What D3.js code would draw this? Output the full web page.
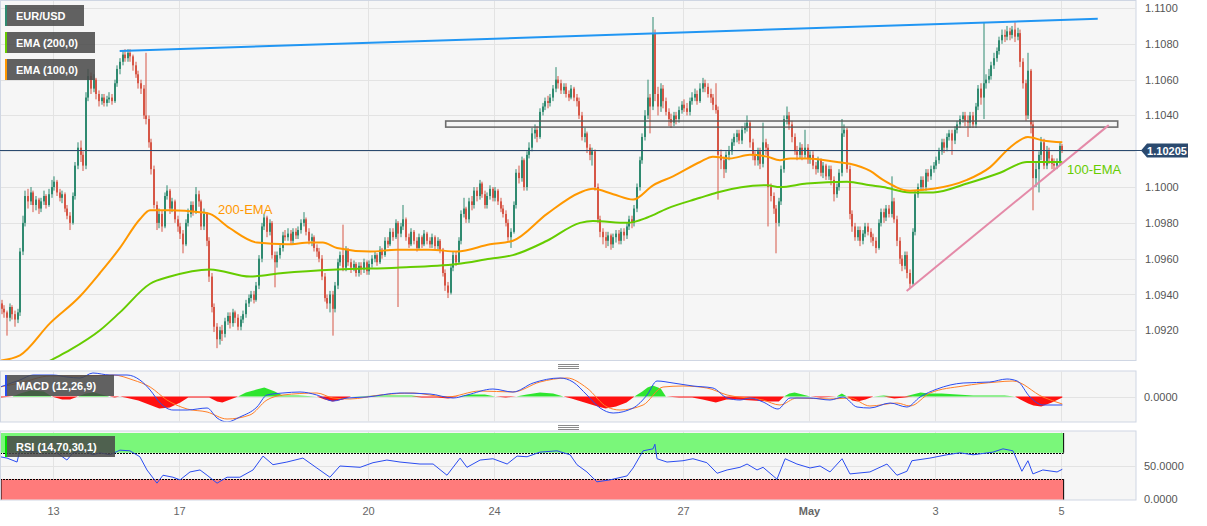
<!DOCTYPE html>
<html><head><meta charset="utf-8">
<script src="https://cdn.jsdelivr.net/npm/d3@7/dist/d3.min.js"></script>
<style>html,body{margin:0;padding:0;background:#fff;}svg{display:block;font-family:Arial,"Liberation Sans",sans-serif;}</style>
</head><body><svg id="c" width="1207" height="526"></svg>
<script>
// ---------------- DATA ----------------
const tickHours = [0,48,120,168,240,288,336,384];
const tickLabels = ["13","17","20","24","27","May","3","5"];
const priceGrid = [1.0920,1.0940,1.0960,1.0980,1.1000,1.1020,1.1040,1.1060,1.1080,1.1100];
const priceTicks = [1.0920,1.0940,1.0960,1.0980,1.1000,1.1040,1.1060,1.1080,1.1100];
const macdTicks = [0];
const rsiTicks = [0,50];
const firstHour = -20;
const firstOpen = 1.0935;
const lastPrice = 1.10205;
const closes = [
1.0932,1.0930,1.0927,1.0933,1.0929,1.0926,1.0930,
1.0964,1.0980,1.0995,1.0992,1.0997,1.0990,1.0993,1.0988,1.0992,1.0995,1.0990,1.0996,1.1000,
1.1003,1.0997,1.0994,1.0996,1.0988,1.0984,1.0980,1.0995,1.1012,1.1022,1.1018,1.1012,
1.1050,1.1062,1.1055,1.1060,1.1052,1.1048,1.1050,1.1047,1.1049,1.1050,1.1048,1.1058,
1.1066,1.1070,1.1074,1.1072,1.1075,1.1073,1.1068,1.1063,1.1058,1.1055,1.1040,1.1038,
1.1025,1.1010,1.0990,1.0980,1.0985,1.0978,1.0995,1.0998,1.0988,1.0992,1.0982,1.0978,
1.0974,1.0968,1.0980,1.0985,1.0990,1.0986,1.0996,1.0992,1.0978,1.0985,1.0970,1.0950,
1.0933,1.0922,1.0915,1.0920,1.0918,1.0925,1.0928,1.0924,1.0930,1.0927,1.0922,1.0926,
1.0929,1.0935,1.0938,1.0940,1.0937,1.0945,1.0960,1.0978,1.0983,1.0975,1.0980,1.0962,
1.0958,1.0962,1.0966,1.0973,1.0972,1.0974,1.0970,1.0975,1.0973,1.0976,1.0980,1.0982,
1.0975,1.0970,1.0972,1.0966,1.0964,1.0960,1.0950,1.0938,1.0935,1.0940,1.0932,1.0945,
1.0958,1.0962,1.0955,1.0965,1.0958,1.0955,1.0957,1.0952,1.0956,1.0954,1.0958,1.0953,
1.0957,1.0960,1.0962,1.0958,1.0965,1.0962,1.0970,1.0968,1.0975,1.0972,1.0980,1.0974,
1.0978,1.0982,1.0972,1.0968,1.0975,1.0970,1.0966,1.0972,1.0968,1.0974,1.0970,1.0968,
1.0972,1.0967,1.0970,1.0965,1.0952,1.0945,1.0941,1.0955,1.0962,1.0958,1.0970,1.0985,
1.0988,1.0982,1.0992,1.0990,1.0998,1.0995,1.1002,1.0996,1.0990,1.0995,1.0999,1.0994,
1.0998,1.0992,1.0988,1.0985,1.0980,1.0972,1.0975,1.0990,1.1008,1.1005,1.1015,1.1000,
1.1018,1.1022,1.1030,1.1032,1.1028,1.1042,1.1045,1.1048,1.1047,1.1050,1.1055,1.1060,
1.1058,1.1054,1.1056,1.1052,1.1050,1.1055,1.1050,1.1048,1.1040,1.1028,1.1030,1.1022,
1.1018,1.1020,1.1000,1.0982,1.0975,1.0972,1.0970,1.0973,1.0968,1.0972,1.0974,1.0970,
1.0975,1.0973,1.0978,1.0982,1.0980,1.0988,1.1000,1.1015,1.1028,1.1040,1.1050,1.1045,
1.1086,1.1052,1.1045,1.1055,1.1048,1.1042,1.1038,1.1036,1.1040,1.1038,1.1043,1.1046,
1.1044,1.1042,1.1048,1.1050,1.1052,1.1048,1.1055,1.1058,1.1056,1.1052,1.1050,1.1046,
1.1043,1.1018,1.1015,1.1010,1.1018,1.1020,1.1025,1.1028,1.1030,1.1026,1.1032,1.1033,
1.1036,1.1025,1.1018,1.1015,1.1020,1.1013,1.1025,1.1022,1.1000,1.0995,1.0988,1.0980,
1.0992,1.1010,1.1038,1.1040,1.1035,1.1028,1.1020,1.1018,1.1022,1.1018,1.1022,1.1016,
1.1018,1.1012,1.1010,1.1015,1.1008,1.1012,1.1006,1.1010,1.1004,1.0996,1.1000,1.1008,
1.1030,1.1032,1.1010,1.0985,1.0978,1.0972,1.0976,1.0970,1.0974,1.0978,1.0975,1.0972,
1.0970,1.0966,1.0980,1.0986,1.0983,1.0988,1.0985,1.0992,1.0982,1.0970,1.0960,1.0956,
1.0962,1.0952,1.0946,1.0975,1.0996,1.1000,1.1004,1.1000,1.1008,1.1006,1.1010,1.1012,
1.1015,1.1020,1.1025,1.1022,1.1028,1.1030,1.1026,1.1032,1.1035,1.1038,1.1040,1.1037,
1.1036,1.1040,1.1035,1.1045,1.1055,1.1050,1.1058,1.1060,1.1062,1.1068,1.1072,1.1076,
1.1082,1.1085,1.1084,1.1087,1.1085,1.1088,1.1084,1.1086,1.1070,1.1058,1.1040,1.1065,
1.1035,1.1005,1.1010,1.1018,1.1025,1.1012,1.1020,1.1016,1.1013,1.1012,1.1014,1.1023,1.10205];
const highs = [
1.0937,1.0934,1.0931,1.0935,1.0934,1.0931,1.0932,
1.0966,1.0984,1.0998,1.0999,1.1000,1.0998,1.0995,1.0994,1.0994,1.0998,1.0996,1.0999,1.1004,
1.1006,1.1004,1.0999,1.0998,1.0997,1.0990,1.0986,1.0997,1.1014,1.1025,1.1026,1.1020,
1.1053,1.1066,1.1064,1.1063,1.1061,1.1054,1.1052,1.1052,1.1051,1.1053,1.1052,1.1060,
1.1068,1.1072,1.1076,1.1077,1.1077,1.1077,1.1074,1.1070,1.1065,1.1060,1.1057,1.1075,
1.1040,1.1027,1.1012,1.0992,1.0988,1.0987,1.0997,1.1001,1.0999,1.0994,1.0993,1.0984,
1.0980,1.0976,1.0982,1.0988,1.0992,1.0992,1.1000,1.0998,1.0993,1.0988,1.0986,1.0972,
1.0952,1.0935,1.0924,1.0922,1.0923,1.0927,1.0930,1.0930,1.0932,1.0931,1.0929,1.0928,
1.0931,1.0937,1.0940,1.0942,1.0942,1.0947,1.0962,1.0980,1.0985,1.0984,1.0982,1.0981,
1.0964,1.0964,1.0968,1.0975,1.0976,1.0977,1.0976,1.0977,1.0977,1.0978,1.0982,1.0986,
1.0983,1.0977,1.0974,1.0973,1.0968,1.0966,1.0962,1.0952,1.0940,1.0942,1.0942,1.0947,
1.0960,1.0964,1.0979,1.0967,1.0966,1.0960,1.0959,1.0958,1.0958,1.0958,1.0960,1.0959,
1.0959,1.0962,1.0964,1.0963,1.0967,1.0966,1.0972,1.0972,1.0977,1.0977,1.0982,1.0981,
1.0980,1.0990,1.0983,1.0974,1.0977,1.0976,1.0972,1.0974,1.0973,1.0976,1.0975,1.0972,
1.0974,1.0973,1.0972,1.0971,1.0966,1.0954,1.0947,1.0957,1.0964,1.0964,1.0972,1.0987,
1.0994,1.0989,1.0994,1.0995,1.1000,1.1000,1.1004,1.1003,1.0998,1.0997,1.1001,1.1000,
1.1000,1.0999,1.0994,1.0990,1.0987,1.0982,1.0977,1.0992,1.1010,1.1012,1.1017,1.1016,
1.1020,1.1025,1.1033,1.1035,1.1034,1.1044,1.1047,1.1050,1.1051,1.1052,1.1057,1.1067,
1.1062,1.1060,1.1058,1.1058,1.1054,1.1057,1.1056,1.1052,1.1050,1.1042,1.1033,1.1031,
1.1024,1.1022,1.1021,1.1002,1.0984,1.0977,1.0975,1.0975,1.0974,1.0974,1.0976,1.0976,
1.0977,1.0977,1.0980,1.0984,1.0984,1.0990,1.1002,1.1017,1.1030,1.1043,1.1060,1.1052,
1.1095,1.1088,1.1056,1.1058,1.1057,1.1050,1.1044,1.1041,1.1042,1.1042,1.1045,1.1048,
1.1049,1.1047,1.1050,1.1053,1.1055,1.1054,1.1058,1.1061,1.1060,1.1058,1.1055,1.1052,
1.1058,1.1045,1.1021,1.1017,1.1020,1.1023,1.1027,1.1030,1.1032,1.1032,1.1034,1.1036,
1.1040,1.1037,1.1027,1.1020,1.1022,1.1022,1.1036,1.1027,1.1024,1.1002,1.0997,1.0990,
1.0994,1.1012,1.1040,1.1045,1.1042,1.1037,1.1030,1.1023,1.1025,1.1024,1.1032,1.1024,
1.1020,1.1020,1.1014,1.1017,1.1016,1.1014,1.1013,1.1012,1.1012,1.1006,1.1002,1.1010,
1.1038,1.1035,1.1033,1.1012,1.0987,1.0980,1.0978,1.0978,1.0976,1.0980,1.0980,1.0977,
1.0974,1.0972,1.0982,1.0988,1.0988,1.0990,1.0990,1.1006,1.0994,1.0984,1.0972,1.0962,
1.0964,1.0964,1.0954,1.0977,1.0998,1.1002,1.1006,1.1006,1.1010,1.1010,1.1012,1.1014,
1.1017,1.1022,1.1027,1.1027,1.1030,1.1032,1.1032,1.1034,1.1037,1.1040,1.1042,1.1042,
1.1040,1.1042,1.1042,1.1047,1.1057,1.1058,1.1092,1.1063,1.1066,1.1070,1.1075,1.1078,
1.1084,1.1088,1.1088,1.1090,1.1089,1.1090,1.1092,1.1089,1.1088,1.1072,1.1060,1.1075,
1.1066,1.1037,1.1014,1.1020,1.1028,1.1027,1.1023,1.1022,1.1018,1.1016,1.1016,1.1025,1.1024];
const lows = [
1.0929,1.0927,1.0917,1.0925,1.0926,1.0922,1.0924,
1.0928,1.0962,1.0978,1.0988,1.0990,1.0986,1.0987,1.0985,1.0986,1.0990,1.0988,1.0989,1.0994,
1.0998,1.0995,1.0992,1.0991,1.0986,1.0982,1.0976,1.0979,1.0993,1.1010,1.1014,1.1009,
1.1010,1.1048,1.1052,1.1053,1.1049,1.1045,1.1046,1.1045,1.1045,1.1047,1.1046,1.1047,
1.1056,1.1063,1.1068,1.1070,1.1070,1.1070,1.1065,1.1061,1.1055,1.1052,1.1038,1.1035,
1.1022,1.1007,1.0988,1.0976,1.0977,1.0975,1.0977,1.0993,1.0985,1.0986,1.0980,1.0975,
1.0971,1.0963,1.0967,1.0978,1.0983,1.0984,1.0985,1.0989,1.0976,1.0976,1.0967,1.0947,
1.0930,1.0919,1.0910,1.0912,1.0914,1.0916,1.0923,1.0921,1.0922,1.0924,1.0920,1.0920,
1.0924,1.0927,1.0933,1.0936,1.0935,1.0936,1.0943,1.0958,1.0976,1.0972,1.0973,1.0960,
1.0944,1.0955,1.0960,1.0964,1.0970,1.0970,1.0968,1.0968,1.0971,1.0971,1.0974,1.0978,
1.0973,1.0968,1.0967,1.0964,1.0961,1.0958,1.0948,1.0936,1.0932,1.0930,1.0917,1.0930,
1.0943,1.0956,1.0953,1.0953,1.0956,1.0952,1.0953,1.0950,1.0950,1.0951,1.0952,1.0951,
1.0951,1.0955,1.0958,1.0956,1.0957,1.0960,1.0961,1.0966,1.0967,1.0970,1.0971,1.0933,
1.0972,1.0976,1.0970,1.0966,1.0967,1.0968,1.0964,1.0965,1.0966,1.0967,1.0968,1.0966,
1.0966,1.0965,1.0965,1.0963,1.0950,1.0942,1.0938,1.0940,1.0953,1.0956,1.0957,1.0968,
1.0983,1.0980,1.0980,1.0987,1.0988,1.0992,1.0993,1.0994,1.0988,1.0988,1.0993,1.0992,
1.0992,1.0990,1.0986,1.0983,1.0978,1.0970,1.0966,1.0974,1.0988,1.1002,1.1003,1.0998,
1.0998,1.1016,1.1020,1.1027,1.1025,1.1027,1.1040,1.1043,1.1044,1.1045,1.1048,1.1053,
1.1055,1.1052,1.1052,1.1050,1.1048,1.1049,1.1048,1.1045,1.1038,1.1026,1.1025,1.1019,
1.1015,1.1012,1.0998,1.0980,1.0972,1.0968,1.0966,1.0967,1.0965,1.0966,1.0969,1.0968,
1.0968,1.0970,1.0971,1.0976,1.0977,1.0978,1.0986,1.0998,1.1013,1.1026,1.1038,1.1030,
1.1043,1.1048,1.1040,1.1042,1.1044,1.1040,1.1034,1.1033,1.1034,1.1035,1.1036,1.1041,
1.1042,1.1040,1.1040,1.1046,1.1048,1.1046,1.1047,1.1053,1.1053,1.1050,1.1047,1.1043,
1.1041,1.0993,1.1010,1.1005,1.1008,1.1015,1.1018,1.1023,1.1025,1.1024,1.1024,1.1030,
1.1031,1.1022,1.1015,1.1012,1.1012,1.1010,1.1011,1.1018,1.0978,1.0992,1.0985,1.0963,
1.0978,1.0990,1.1008,1.1035,1.1032,1.1025,1.1018,1.1015,1.1016,1.1015,1.1016,1.1013,
1.1013,1.1010,1.1007,1.1008,1.1006,1.1005,1.1004,1.1004,1.1001,1.0992,1.0994,1.0998,
1.1006,1.1028,1.1008,1.0982,1.0975,1.0970,1.0970,1.0967,1.0968,1.0972,1.0973,1.0969,
1.0967,1.0963,1.0965,1.0978,1.0980,1.0981,1.0983,1.0983,1.0980,1.0967,1.0957,1.0953,
1.0954,1.0949,1.0943,1.0945,1.0973,1.0994,1.0998,1.0998,1.0998,1.1003,1.1004,1.1008,
1.1010,1.1013,1.1018,1.1019,1.1020,1.1026,1.1018,1.1024,1.1030,1.1033,1.1036,1.1034,
1.1028,1.1033,1.1033,1.1033,1.1043,1.1046,1.1038,1.1055,1.1058,1.1060,1.1066,1.1070,
1.1074,1.1080,1.1081,1.1082,1.1082,1.1083,1.1081,1.1082,1.1067,1.1055,1.1037,1.1038,
1.1030,1.0987,1.1000,1.0997,1.1015,1.1010,1.1010,1.1013,1.1010,1.1009,1.1010,1.1012,1.1019];

const ema100Hours = [-20.7,-13.1,-1.6,9.8,17.4,25,32.6,36.5,44.1,55.5,59.3,66.9,77.2,88.6,97.4,102.3,107.7,120.3,130.5,143.1,153.4,166,174.7,187.7,200.3,205.2,212.9,220.5,228.1,235.7,246,250.9,257.4,265,271.5,276.4,280.3,286.7,298.2,303.1,310.8,315.7,326,334.8,347.7,356.4,364,370.9,376.6,384];
const ema100 = [1.0903,1.0906,1.0924,1.0939,1.0952,1.0966,1.0982,1.0987,1.0987,1.0986,1.0985,1.0977,1.0969,1.0968,1.0969,1.0969,1.0966,1.0964,1.0965,1.0965,1.0964,1.0968,1.0970,1.0985,1.0997,1.0999,1.0996,1.0993,1.1001,1.1006,1.1014,1.1017,1.1016,1.1018,1.1017,1.1015,1.1016,1.1016,1.1014,1.1013,1.1009,1.1004,1.0998,1.0999,1.1004,1.1011,1.1022,1.1028,1.1026,1.1025];
const ema200Hours = [-20.7,-1.6,6,17.4,25,36.5,44.1,59.3,74.6,87.1,107.7,130.5,153.4,166,174.7,187.7,200.3,205.2,218.2,225.9,233.4,246,252.5,271.5,276.4,286.7,302,310.8,315.7,326,334.8,347.7,360.3,370.5,384];
const ema200 = [1.0885,1.0903,1.0909,1.0920,1.0930,1.0946,1.0950,1.0954,1.0950,1.0952,1.0954,1.0955,1.0957,1.0960,1.0962,1.0970,1.0980,1.0981,1.0980,1.0983,1.0988,1.0994,1.0997,1.1001,1.1000,1.1002,1.1003,1.1001,1.1000,1.0997,1.0997,1.1002,1.1008,1.1014,1.1014];

const resistanceLine = [[25.4,1.1076],[398.0,1.1094]];
const supportLine = [[325.2,1.0942],[402.2,1.10346]];
const zoneHours = [149.6,405.6];
const zonePrices = [1.10335,1.10369];
const annotations = [
  {text:"200-EMA", hour:62.9, price:1.0988, color:"#ff9800"},
  {text:"100-EMA", hour:386.3, price:1.10101, color:"#66cc00"}
];

const macdHours = [-20.7,-13.1,-8.1,-0.5,4.8,9.8,14.7,21.2,27.7,32.6,36.5,40.3,45.2,50.6,58.2,62,65.8,70.7,77.2,81,87.1,93.6,100,106.2,111.5,119.1,131.7,143.1,151.9,157.2,167.1,174.7,182.4,192.6,197.6,202.9,207.9,212.9,220.5,225.8,229.6,235.7,243.3,250.9,256.3,261.2,265,270,275.7,280.3,287.9,295.5,300.5,305.8,310.7,318.4,324.8,329.8,336.3,346.2,356.4,362.9,366.8,371.7,376.6,384];
const macdLine = [0.00095,0.00165,0.00215,0.00215,0.00195,0.00185,0.00235,0.00215,0.00215,0.00165,0.00065,-0.00065,-0.00135,-0.00135,-0.00115,-0.00215,-0.00255,-0.00205,-0.00105,0.00015,0.00035,0.00045,0.00015,-0.00045,-0.00015,-0.00005,0.00035,0.00025,-0.00015,0.00015,0.00075,0.00045,0.00135,0.00185,0.00145,0.00015,-0.00115,-0.00165,-0.00115,0.00015,0.00155,0.00135,0.00105,0.00085,-0.00015,-0.00035,-0.00015,-0.00055,-0.00125,-0.00015,-0.00015,-0.00035,-0.00005,-0.00105,-0.00115,-0.00065,-0.00105,-0.00005,0.00075,0.00135,0.00145,0.00175,0.00155,-0.00005,-0.00085,-0.00085];
const signalHours = [-20.7,-13.1,-1.6,10.9,22.4,30,36.5,42.9,50.6,58.2,65.8,74.5,81,87.1,100,106.2,112.6,124.1,136.6,149.6,162.2,174.7,185,195.3,202.9,210.6,215.5,224.3,231.9,239.5,248.6,256.3,270,276.4,282.9,295.5,303.1,310.7,321,326,333.6,346.2,359.1,365.2,376.6,384];
const signalLine = [0.00095,0.00135,0.00205,0.00205,0.00215,0.00165,0.00095,-0.00035,-0.00125,-0.00155,-0.00225,-0.00185,-0.00035,0.00015,0.00035,-0.00015,-0.00025,0.00015,0.00035,-0.00005,0.00055,0.00045,0.00145,0.00185,0.00085,-0.00105,-0.00135,-0.00085,0.00095,0.00105,0.00085,0.00015,-0.00035,-0.00085,-0.00015,-0.00025,-0.00015,-0.00095,-0.00065,-0.00095,0.00035,0.00105,0.00145,0.00155,-0.00005,-0.00075];
const histHours = [-20.7,-16,-13,-9,-4,-1,3,6,9,12,15,18,21,23,25,27,32,36,40,44,48,51,56,59,62,64,67,70,73,77,80,84,87,93,100,103,106,110,113,124,136,140,146,150,154,158,164,168,172,176,180,185,190,194,197,202,207,210,214,218,221,224,226,228,231,233,238,243,247,252,256,260,266,272,276,278,280,282,285,288,292,298,300,302,304,306,309,312,316,320,324,327,330,333,338,344,350,355,362,366,368,371,373,376,380,384];
const histValues = [-0.0001,0,0.0003,0.0006,0.0005,0,-0.0003,-0.0003,0,0.0003,0.0004,0.0002,0,-0.0001,0,-0.0001,-0.0004,-0.0008,-0.0012,-0.0011,-0.0006,-0.0001,-0.0001,-0.0001,-0.0005,-0.0006,-0.0003,0,0.0004,0.0007,0.0009,0.0005,0.0001,0.0001,0,-0.0003,-0.0005,-0.0003,0,0.0001,0.0001,-0.0001,-0.0001,-0.0002,0,0.0002,0.0002,0,-0.0001,0,0.0002,0.0004,0.0003,0,-0.0002,-0.0006,-0.001,-0.0012,-0.001,-0.0006,0,0.0005,0.0009,0.0011,0.0008,0,-0.0001,-0.0001,-0.0003,-0.0006,-0.0003,-0.0003,-0.0004,-0.0005,-0.0005,0,0.0003,0.0004,0.0002,0,-0.0001,0,0.0003,0,-0.0004,-0.0005,-0.0003,0,0.0001,-0.0002,-0.0001,0.0002,0.0004,0.0003,0.0003,0.0002,0.0001,0.0001,0.0001,0,-0.0003,-0.0007,-0.0009,-0.001,-0.0006,-0.0001];

const rsiHours = [-20.7,-18,-14.2,-13.1,-8.1,-2.8,1,4.8,7.1,10.9,14.7,17.4,21.2,25,28.8,32.6,35.3,39.1,41.4,45.2,47.9,51.7,55.5,58.2,62,65.8,70.7,75.7,79.5,83.3,88.6,94.7,100,105,108.8,116.5,121.4,126.7,131.7,139.3,144.3,149.6,154.6,157.2,162.2,167.1,172.5,176.3,180.1,185,191.5,196.5,199.1,202.9,206.7,211.7,218.2,220.5,224.3,228.1,228.8,229.6,233.4,239.5,243.3,248.6,252.5,256.3,261.2,263.9,267.7,270,275.3,278.4,282.9,287.9,291.7,295.5,300.1,303.1,310.7,317.2,321,324.8,326.7,333.6,340,345,350,357.6,361.4,365.2,368.6,370.9,372.8,376.6,382,384];
const rsiValues = [64,62,56,74,71,77,70,59,70,74,67,70,67,74,73,64,44,24,36,33,29,41,44,36,24,33,33,44,65,52,56,62,47,33,50,48,55,59,56,53,53,36,62,48,59,61,53,65,64,71,73,67,52,41,26,29,35,47,73,76,83,61,56,58,61,55,39,44,48,53,44,48,30,61,53,47,50,41,61,38,41,53,36,42,58,62,67,70,67,71,76,73,42,58,38,44,41,45];
const rsiOverbought = 70, rsiOversold = 30;

// ---------------- CHART ----------------
const svg = d3.select("#c");
const panelRight = 1136;
const main = {top:0.5, bottom:360.5};
const macdP = {top:371, bottom:422};
const rsiP = {top:431, bottom:500};

const x = d3.scaleLinear().domain([0,384]).range([53,1061]);
const cx = h => x(h + 0.5);
const yP = d3.scaleLinear().domain([1.09034,1.11045]).range([360,0]);
const yM = d3.scaleLinear().domain([-0.00255,0.00255]).range([422,371]);
const yR = d3.scaleLinear().domain([0,100]).range([499,433]);

const gridC = "#e3e3e3", borderC = "#cfd6e3";
function panel(p){
  svg.append("rect").attr("x",0.5).attr("y",p.top).attr("width",panelRight-0.5).attr("height",p.bottom-p.top)
    .attr("fill","#f6f6f6").attr("stroke",borderC);
}
panel(main); panel(macdP); panel(rsiP);

const defs = svg.append("defs");
defs.append("clipPath").attr("id","clipMain").append("rect").attr("x",1).attr("y",1).attr("width",panelRight-1.5).attr("height",359);
defs.append("clipPath").attr("id","clipMacd").append("rect").attr("x",1).attr("y",macdP.top+0.5).attr("width",panelRight-1.5).attr("height",macdP.bottom-macdP.top-1);
defs.append("clipPath").attr("id","clipRsi").append("rect").attr("x",1).attr("y",rsiP.top+0.5).attr("width",panelRight-1.5).attr("height",rsiP.bottom-rsiP.top-1);

// grids
const gGrid = svg.append("g");
[main,macdP,rsiP].forEach(p=>{
  gGrid.selectAll(null).data(tickHours).enter().append("line")
    .attr("x1",d=>Math.round(x(d))+0.5).attr("x2",d=>Math.round(x(d))+0.5)
    .attr("y1",p.top+0.5).attr("y2",p.bottom-0.5).attr("stroke",gridC);
});
gGrid.selectAll(null).data(priceGrid).enter().append("line")
  .attr("x1",1).attr("x2",panelRight-0.5)
  .attr("y1",d=>Math.round(yP(d))+0.5).attr("y2",d=>Math.round(yP(d))+0.5).attr("stroke",gridC);
gGrid.append("line").attr("x1",1).attr("x2",panelRight-0.5).attr("y1",Math.round(yM(0))+0.5).attr("y2",Math.round(yM(0))+0.5).attr("stroke",gridC);
gGrid.append("line").attr("x1",1).attr("x2",panelRight-0.5).attr("y1",Math.round(yR(50))+0.5).attr("y2",Math.round(yR(50))+0.5).attr("stroke",gridC);

// axes
function styleAxis(g){ g.select(".domain").remove(); g.selectAll("line").remove();
  g.selectAll("text").attr("fill","#555").style("font-size","11px").style("font-family","Arial, 'Liberation Sans', sans-serif"); }
svg.append("g").attr("transform","translate(1142,0)")
  .call(d3.axisRight(yP).tickValues(priceTicks).tickFormat(d3.format(".4f")).tickSize(0).tickPadding(3)).call(styleAxis);
svg.append("g").attr("transform","translate(1141,0)")
  .call(d3.axisRight(yM).tickValues(macdTicks).tickFormat(d3.format(".4f")).tickSize(0).tickPadding(3)).call(styleAxis);
svg.append("g").attr("transform","translate(1141,0)")
  .call(d3.axisRight(yR).tickValues(rsiTicks).tickFormat(d3.format(".4f")).tickSize(0).tickPadding(3)).call(styleAxis);
const xa = svg.append("g").attr("transform","translate(0,503)")
  .call(d3.axisBottom(x).tickValues(tickHours).tickFormat((d,i)=>tickLabels[i]).tickSize(0).tickPadding(4));
styleAxis(xa);
xa.selectAll("text").attr("fill","#666").style("font-weight",(d,i)=>tickLabels[i]==="May"?"bold":"normal");

// ----- main panel content -----
const gMain = svg.append("g").attr("clip-path","url(#clipMain)");
const candles = closes.map((c,i)=>({h:firstHour+i, o:i===0?firstOpen:closes[i-1], c, hi:highs[i], lo:lows[i]}));
const upC = "#2f8a70", dnC = "#d65646";
gMain.selectAll("line.wick").data(candles).enter().append("line")
  .attr("x1",d=>Math.round(cx(d.h)-1)+1).attr("x2",d=>Math.round(cx(d.h)-1)+1)
  .attr("y1",d=>yP(d.hi)).attr("y2",d=>yP(d.lo))
  .attr("stroke",d=>d.c>=d.o?upC:dnC).attr("stroke-width",1);
gMain.selectAll("rect.body").data(candles).enter().append("rect")
  .attr("x",d=>Math.round(cx(d.h)-1)).attr("width",2)
  .attr("y",d=>Math.min(yP(d.o),yP(d.c)))
  .attr("height",d=>Math.max(1,Math.abs(yP(d.o)-yP(d.c))))
  .attr("fill",d=>d.c>=d.o?upC:dnC);

const lineGen = (ys)=>d3.line().x(d=>cx(d[0])).y(d=>ys(d[1])).curve(d3.curveMonotoneX);
gMain.append("path").datum(ema200Hours.map((h,i)=>[h,ema200[i]]))
  .attr("d",lineGen(yP)).attr("fill","none").attr("stroke","#66cc00").attr("stroke-width",2);
gMain.append("path").datum(ema100Hours.map((h,i)=>[h,ema100[i]]))
  .attr("d",lineGen(yP)).attr("fill","none").attr("stroke","#ff9800").attr("stroke-width",2);

// zone rectangle
gMain.append("rect").attr("x",x(zoneHours[0])).attr("width",x(zoneHours[1])-x(zoneHours[0]))
  .attr("y",yP(zonePrices[1])).attr("height",yP(zonePrices[0])-yP(zonePrices[1]))
  .attr("fill","none").attr("stroke","#555").attr("stroke-opacity",0.85).attr("stroke-width",1.6);
// trend lines
const straight = d3.line().x(d=>x(d[0])).y(d=>yP(d[1]));
gMain.append("path").datum(resistanceLine).attr("d",straight).attr("stroke","#2196f3").attr("stroke-width",2).attr("fill","none");
gMain.append("path").datum(supportLine).attr("d",straight).attr("stroke","#e48aa8").attr("stroke-width",2).attr("fill","none");

// price line
const py = Math.round(yP(lastPrice))+0.5;
svg.append("line").attr("x1",0).attr("x2",1142).attr("y1",py).attr("y2",py)
  .attr("stroke","#2b4a6f").attr("stroke-width",1);
svg.append("path").attr("d",`M1141,${py} L1147,${py-7} L1188,${py-7} L1188,${py+7} L1147,${py+7} Z`).attr("fill","#2b4a6f");
svg.append("text").attr("x",1167).attr("y",py+4).attr("text-anchor","middle").attr("fill","#fff")
  .style("font-size","11px").style("font-weight","bold").text(d3.format(".5f")(lastPrice));

// annotations
svg.selectAll("text.ann").data(annotations).enter().append("text")
  .attr("x",d=>x(d.hour)).attr("y",d=>yP(d.price)+5).attr("fill",d=>d.color)
  .style("font-size","13px").text(d=>d.text);

// ----- MACD -----
const gM = svg.append("g").attr("clip-path","url(#clipMacd)");
const histPts = histHours.map((h,i)=>[h,histValues[i]]);
gM.append("path").datum(histPts)
  .attr("d",d3.area().x(d=>cx(d[0])).y0(yM(0)).y1(d=>yM(Math.max(0,d[1]))))
  .attr("fill","#2fe52f");
gM.append("path").datum(histPts)
  .attr("d",d3.area().x(d=>cx(d[0])).y0(yM(0)).y1(d=>yM(Math.min(0,d[1]))))
  .attr("fill","#ff1010");
gM.append("path").datum(signalHours.map((h,i)=>[h,signalLine[i]]))
  .attr("d",lineGen(yM)).attr("fill","none").attr("stroke","#ff7f27").attr("stroke-width",1);
gM.append("path").datum(macdHours.map((h,i)=>[h,macdLine[i]]))
  .attr("d",lineGen(yM)).attr("fill","none").attr("stroke","#2a4cf0").attr("stroke-width",1);

// ----- RSI -----
const gR = svg.append("g").attr("clip-path","url(#clipRsi)");
const bandEnd = x(385);
gR.append("rect").attr("x",0).attr("width",bandEnd).attr("y",yR(100)).attr("height",yR(rsiOverbought)-yR(100)).attr("fill","#7af77a");
gR.append("rect").attr("x",0).attr("width",bandEnd).attr("y",yR(rsiOversold)).attr("height",yR(0)-yR(rsiOversold)+1).attr("fill","#ff7b7b");
[rsiOverbought,rsiOversold].forEach(v=>{
  gR.append("line").attr("x1",0).attr("x2",bandEnd).attr("y1",Math.round(yR(v))+0.5).attr("y2",Math.round(yR(v))+0.5)
    .attr("stroke","#000").attr("stroke-dasharray","2,1");
});
gR.append("line").attr("x1",bandEnd).attr("x2",bandEnd).attr("y1",yR(100)).attr("y2",yR(rsiOverbought)).attr("stroke","#000");
gR.append("line").attr("x1",bandEnd).attr("x2",bandEnd).attr("y1",yR(rsiOversold)).attr("y2",yR(0)+1).attr("stroke","#000");
gR.append("line").attr("x1",1).attr("x2",1).attr("y1",yR(rsiOversold)).attr("y2",yR(0)+1).attr("stroke","#000");
gR.append("path").datum(rsiHours.map((h,i)=>[h,rsiValues[i]]))
  .attr("d",d3.line().x(d=>cx(d[0])).y(d=>yR(d[1]))).attr("fill","none").attr("stroke","#2a4cf0").attr("stroke-width",1);

// separators
[[364.5,366.5,368.5],[425.5,427.5,429.5]].forEach(ys=>ys.forEach(yy=>{
  svg.append("line").attr("x1",558).attr("x2",579).attr("y1",yy).attr("y2",yy).attr("stroke","#8a8a8a");
}));

// legend boxes
const legends = [
  {text:"EUR/USD", y:5, w:79, c:"#2f8a70"},
  {text:"EMA (200,0)", y:32, w:90, c:"#66cc00"},
  {text:"EMA (100,0)", y:59, w:90, c:"#ff9800"},
  {text:"MACD (12,26,9)", y:375, w:109, c:"#2a4cf0"},
  {text:"RSI (14,70,30,1)", y:436, w:110, c:"#00dd00"}
];
const lg = svg.selectAll("g.lg").data(legends).enter().append("g");
lg.append("rect").attr("x",5).attr("y",d=>d.y).attr("width",d=>d.w).attr("height",21).attr("fill","rgba(72,72,72,0.86)");
lg.append("rect").attr("x",5).attr("y",d=>d.y).attr("width",2).attr("height",21).attr("fill",d=>d.c);
lg.append("text").attr("x",16).attr("y",d=>d.y+14.5).attr("fill","#fff").style("font-size","11px").style("font-weight","bold").text(d=>d.text);
</script></body></html>
